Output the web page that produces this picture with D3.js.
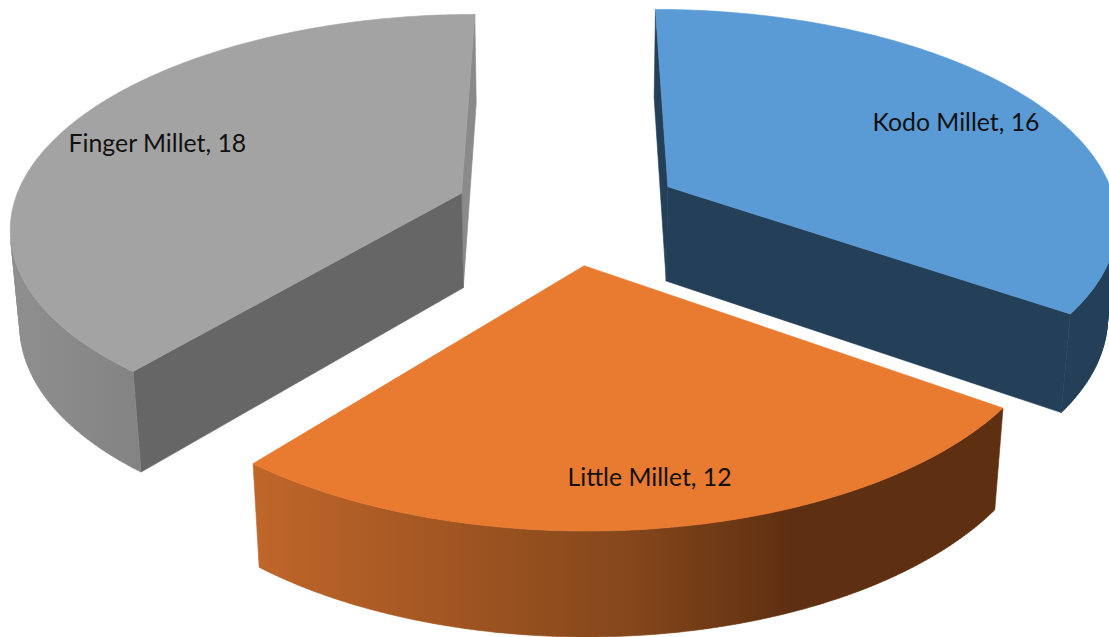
<!DOCTYPE html>
<html><head><meta charset="utf-8">
<script src="https://cdn.jsdelivr.net/npm/d3@7"></script>
<style>html,body{margin:0;padding:0;background:#fff;overflow:hidden}svg{display:block}</style>
</head><body><svg id="c" width="1109" height="637"></svg>
<script>
const categories = ["Kodo Millet", "Little Millet", "Finger Millet"];
const values = [16, 12, 18];
const topColors = ["#5b9bd5", "#e97b30", "#a3a3a3"];
const startWallColors = ["#243f58", "#5e2f11", "#666666"];
const endWallColors = ["#243f58", "#5e2f11", "#8a8a8a"];
const rimStops = [
  [["0%", "#243f58"], ["100%", "#243f58"]],
  [["0%", "#c0662a"], ["50%", "#85471b"], ["72%", "#5e2f11"], ["100%", "#5e2f11"]],
  [["0%", "#8f8f8f"], ["100%", "#838383"]]
];
const labelNudge = [[-5.5, 9], [5.5, 11.5], [14.5, 5]];

// camera: ground-plane pie viewed in perspective
const W = 1109, H = 637;
const cx = 568, horizon = -1240, nadir = 5800;
const F = 3115, G = 39900, dist = 27.5, thickBase = 46, thick = 1350;
const R = 3.97, explode = 1.01;

function project(x, y, down) {
  const D = dist + y;
  let u = cx + F * x / D, v = horizon + G / D;
  if (down) {
    const dv = thickBase + thick / D;
    u += (cx - u) * dv / (nadir - v);
    v += dv;
  }
  return [u, v];
}

const pie = d3.pie().sort(null).value(d => d).startAngle(0).endAngle(2 * Math.PI);
const arcs = pie(values);
const line = d3.line();
const svg = d3.select("#c");
const defs = svg.append("defs");

function slice(a) {
  const m = (a.startAngle + a.endAngle) / 2;
  const ox = explode * Math.sin(m), oy = explode * Math.cos(m);
  const pt = (ang, r, down) => project(ox + r * Math.sin(ang), oy + r * Math.cos(ang), down);
  const n = 180;
  const angs = d3.range(n + 1).map(i => a.startAngle + (a.endAngle - a.startAngle) * i / n);
  return {
    m, pt,
    top: [pt(0, 0), ...angs.map(t => pt(t, R))],
    // only the outer-wall quads that face the camera
    rimQuads: d3.pairs(angs)
      .map(([t0, t1]) => [pt(t0, R), pt(t1, R), pt(t1, R, true), pt(t0, R, true)])
      .filter(q => d3.polygonArea(q) > 0),
    wallStart: [pt(0, 0), pt(a.startAngle, R), pt(a.startAngle, R, true), pt(0, 0, true)],
    wallEnd: [pt(0, 0), pt(a.endAngle, R), pt(a.endAngle, R, true), pt(0, 0, true)]
  };
}

const slices = arcs.map(slice);
slices.forEach((s, i) => {
  const xs = s.rimQuads.flat().map(p => p[0]);
  const g = defs.append("linearGradient").attr("id", "rim" + i)
    .attr("gradientUnits", "userSpaceOnUse")
    .attr("x1", d3.min(xs)).attr("x2", d3.max(xs)).attr("y1", 0).attr("y2", 0);
  rimStops[i].forEach(st => g.append("stop").attr("offset", st[0]).attr("stop-color", st[1]));
});

function face(g, d, color) {
  g.append("path").attr("d", d)
    .attr("fill", color).attr("stroke", color).attr("stroke-width", 0.6).attr("stroke-linejoin", "round");
}

// painter's order: back slices first, front slice last; back-facing walls are skipped
[0, 2, 1].forEach(i => {
  const s = slices[i];
  const g = svg.append("g").attr("class", "slice");
  if (d3.polygonArea(s.wallEnd) < 0) face(g, line(s.wallEnd) + "Z", endWallColors[i]);
  if (d3.polygonArea(s.wallStart) > 0) face(g, line(s.wallStart) + "Z", startWallColors[i]);
  face(g, s.rimQuads.map(q => line(q) + "Z").join(""), `url(#rim${i})`);
  face(g, line(s.top) + "Z", topColors[i]);
});

slices.forEach((s, i) => {
  const p = s.pt(s.m, R * 0.8);
  svg.append("text")
    .attr("x", p[0] + labelNudge[i][0]).attr("y", p[1] + labelNudge[i][1])
    .attr("text-anchor", "middle").attr("dominant-baseline", "middle")
    .attr("font-family", "Lato, sans-serif").attr("font-size", 24.8).attr("fill", "#111")
    .text(`${categories[i]}, ${values[i]}`);
});
</script></body></html>
